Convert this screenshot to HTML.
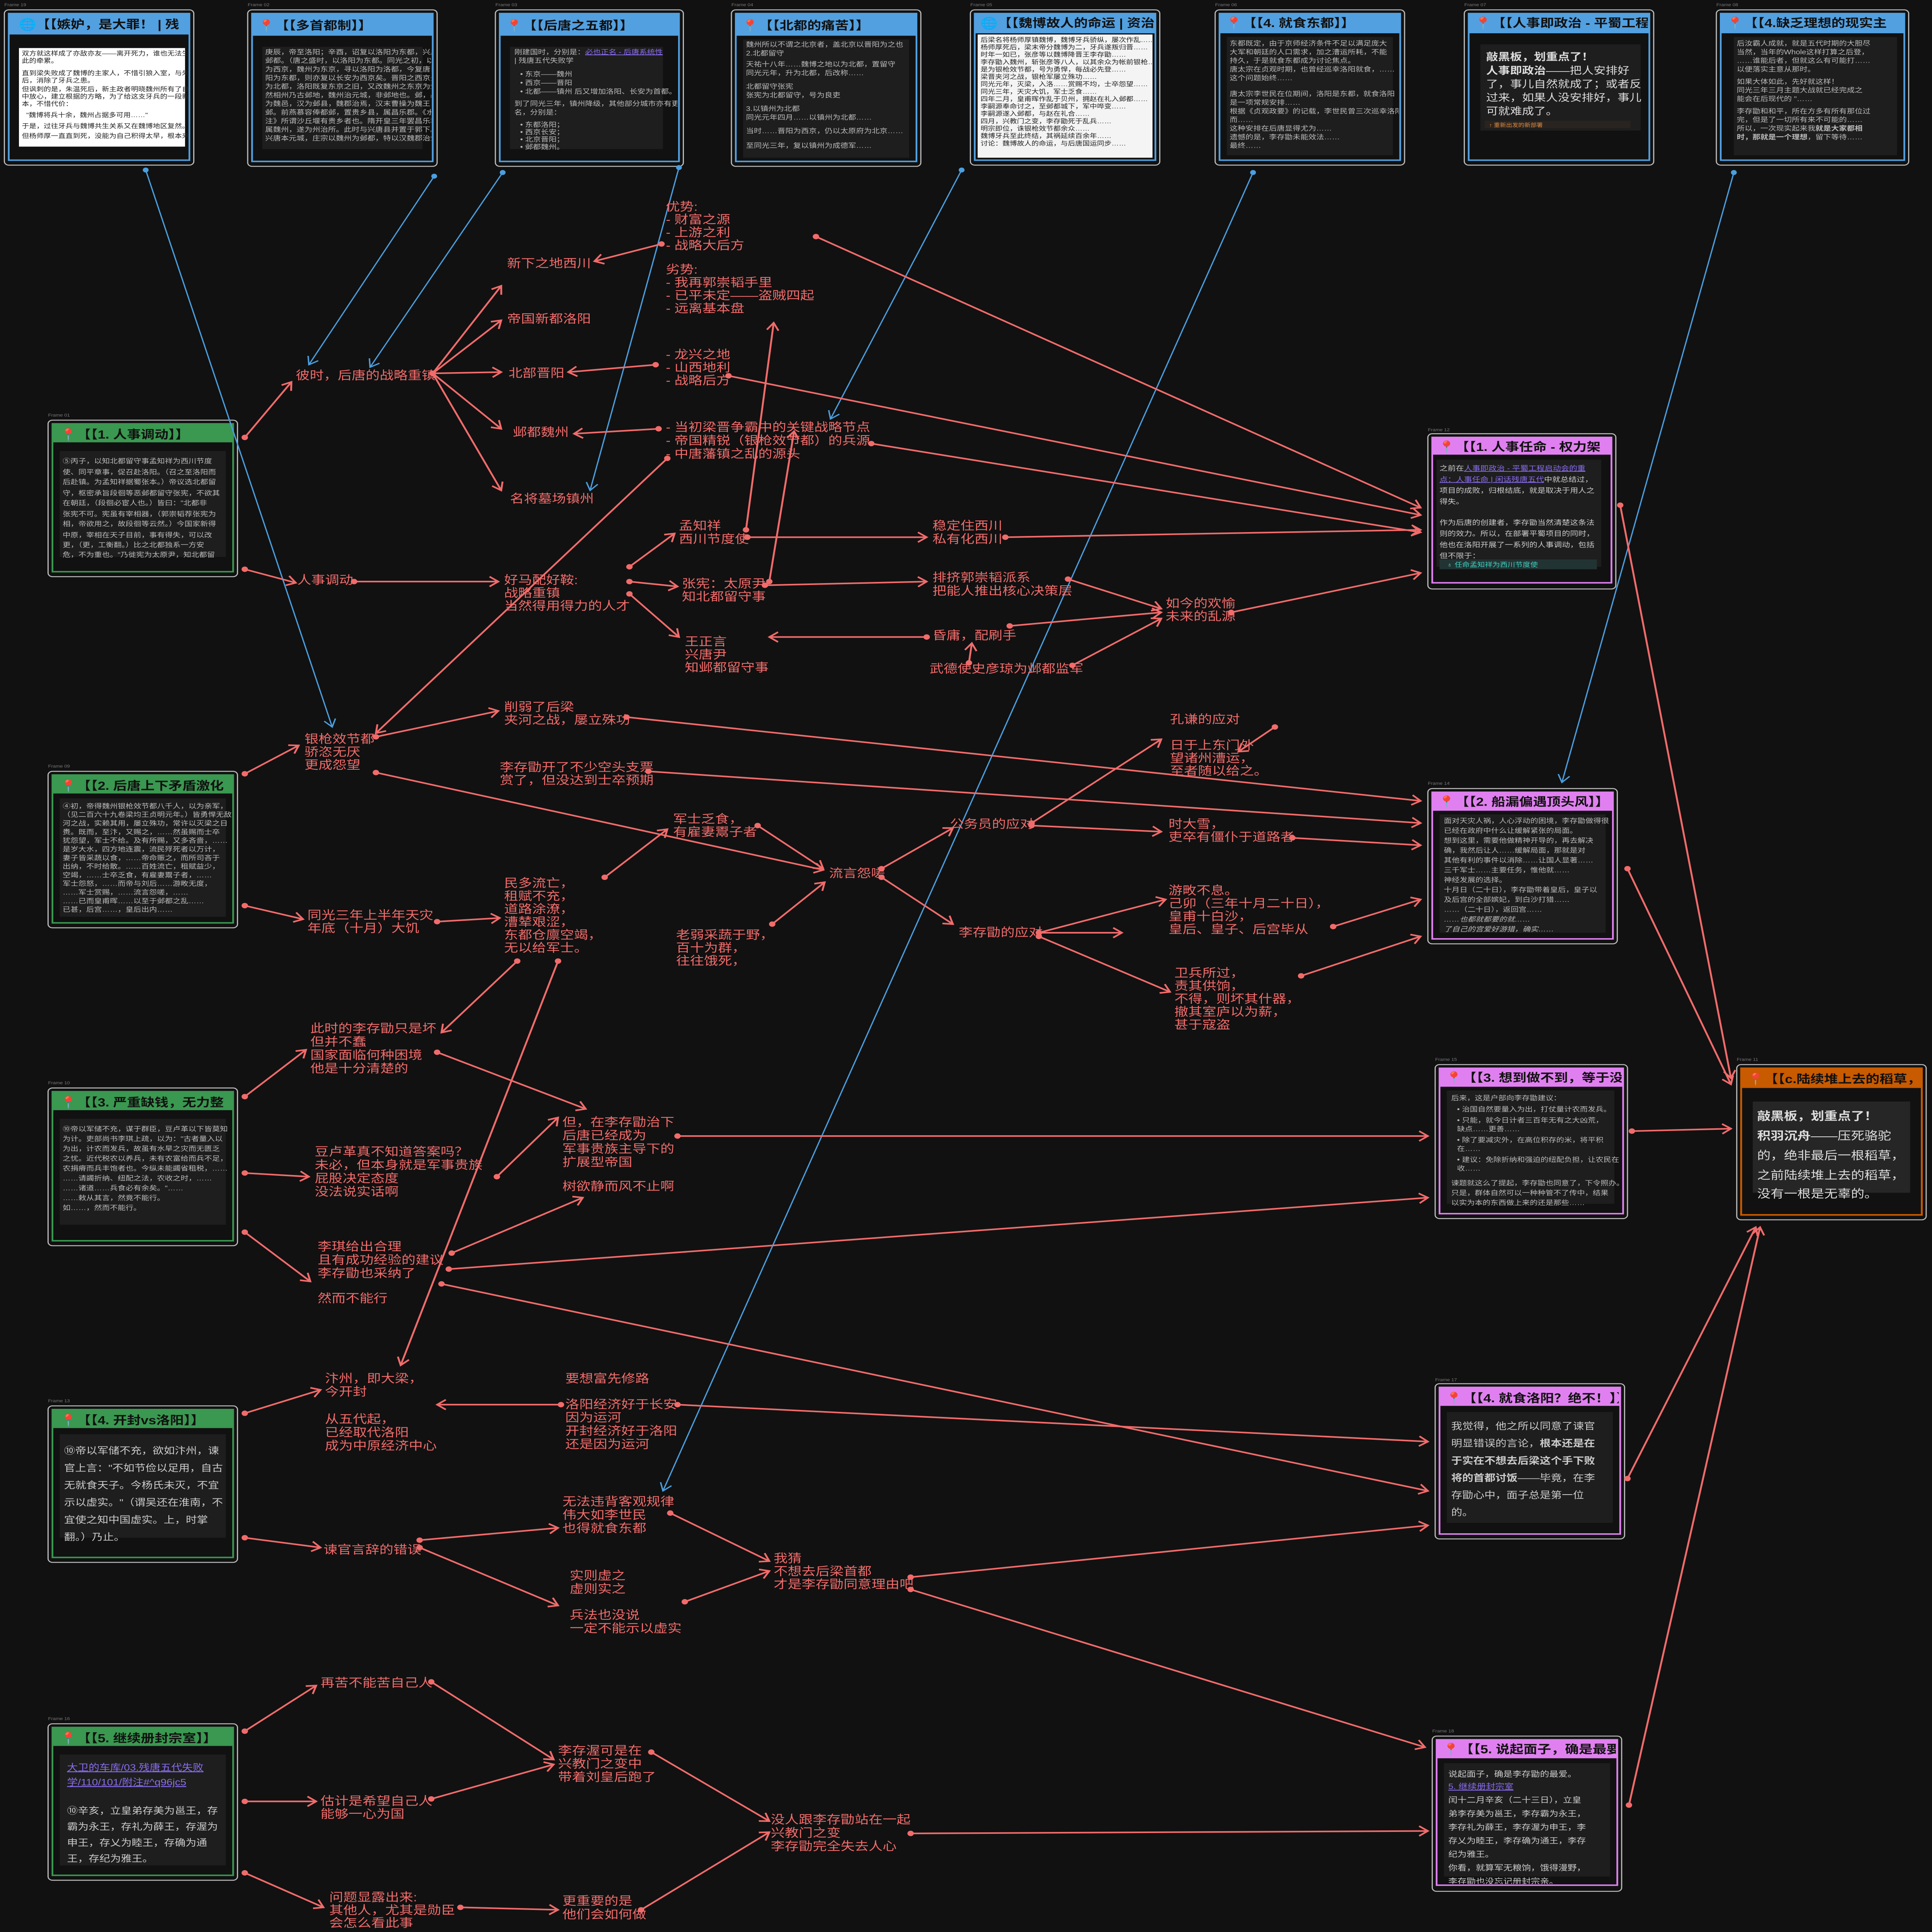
<!DOCTYPE html>
<html><head><meta charset="utf-8"><style>
html,body{margin:0;padding:0;background:#111;width:100vw;height:100vh;overflow:hidden;}
svg{display:block;width:100vw;height:100vh;}
text{font-family:"Liberation Sans","Noto Sans CJK SC",sans-serif;}
.l{fill:#f26b6b;font-size:9.6px;}
.r{stroke:#f26b6b;stroke-width:1.3;fill:none;marker-end:url(#ar);marker-start:url(#dr);}
.b{stroke:#4a9fe0;stroke-width:0.9;fill:none;marker-end:url(#ab);marker-start:url(#db);}
.t{font-size:9.5px;font-weight:bold;fill:#111;}
.c{font-size:5.4px;fill:#bbb;}
.cd{font-size:5px;fill:#222;}
.fl{font-size:3.5px;fill:#777;}
</style></head><body>
<svg viewBox="0 0 1326 1568" preserveAspectRatio="none" xmlns="http://www.w3.org/2000/svg" overflow="hidden">
<defs>
<marker id="ar" markerWidth="10" markerHeight="10" refX="7" refY="5" orient="auto" markerUnits="userSpaceOnUse"><path d="M1,1 L7,5 L1,9" fill="none" stroke="#f26b6b" stroke-width="1.3"/></marker>
<marker id="dr" markerWidth="6" markerHeight="6" refX="3" refY="3" markerUnits="userSpaceOnUse"><circle cx="3" cy="3" r="2.2" fill="#f26b6b"/></marker>
<marker id="ab" markerWidth="10" markerHeight="10" refX="7" refY="5" orient="auto" markerUnits="userSpaceOnUse"><path d="M1,1 L7,5 L1,9" fill="none" stroke="#4a9fe0" stroke-width="1"/></marker>
<marker id="db" markerWidth="6" markerHeight="6" refX="3" refY="3" markerUnits="userSpaceOnUse"><circle cx="3" cy="3" r="2" fill="#4a9fe0"/></marker>
<clipPath id="k1"><rect x="7" y="12" width="122" height="117"/></clipPath>
<clipPath id="k2"><rect x="174" y="12" width="122" height="118"/></clipPath>
<clipPath id="k3"><rect x="344" y="12" width="121" height="118"/></clipPath>
<clipPath id="k4"><rect x="506" y="12" width="122" height="118"/></clipPath>
<clipPath id="k5"><rect x="670" y="12" width="122" height="117"/></clipPath>
<clipPath id="k6"><rect x="838" y="12" width="122" height="117"/></clipPath>
<clipPath id="k7"><rect x="1009" y="12" width="122" height="117"/></clipPath>
<clipPath id="k8"><rect x="1182" y="12" width="124" height="117"/></clipPath>
<clipPath id="kA"><rect x="37" y="345" width="122" height="118"/></clipPath>
<clipPath id="kB"><rect x="37" y="630" width="122" height="118"/></clipPath>
<clipPath id="kC"><rect x="37" y="887" width="122" height="119"/></clipPath>
<clipPath id="kD"><rect x="37" y="1145" width="122" height="118"/></clipPath>
<clipPath id="kE"><rect x="37" y="1403" width="122" height="118"/></clipPath>
<clipPath id="kF"><rect x="984" y="356" width="121" height="116"/></clipPath>
<clipPath id="kG"><rect x="984" y="644" width="122" height="117"/></clipPath>
<clipPath id="kH"><rect x="989" y="868" width="124" height="116"/></clipPath>
<clipPath id="kI"><rect x="989" y="1127" width="122" height="117"/></clipPath>
<clipPath id="kJ"><rect x="987" y="1413" width="122" height="116"/></clipPath>
<clipPath id="kK"><rect x="1196" y="868" width="122" height="117"/></clipPath>
</defs>
<rect width="1326" height="1568" fill="#111"/>

<!-- TOP FRAMES -->
<text class="fl" x="3" y="5">Frame 19</text>
<rect x="3" y="8" width="130" height="126" rx="3" fill="none" stroke="#bbb" stroke-width="0.8"/>
<rect x="6" y="11" width="124" height="119" fill="#111" stroke="#52a0e0" stroke-width="1.2"/>
<rect x="6" y="11" width="124" height="17" fill="#52a0e0"/>
<rect x="13" y="39" width="114" height="80" fill="#fff"/>
<g clip-path="url(#k1)">
<text class="t" x="13" y="23">🌐【【嫉妒，是大罪！ | 残</text>
<text class="cd" x="15" y="45">双方就这样成了亦敌亦友——离开死力，谁也无法生存</text>
<text class="cd" x="15" y="51">此的牵累。</text>
<text class="cd" x="15" y="61">直到梁失败成了魏博的主家人，不惜引狼入室，与朱温联手</text>
<text class="cd" x="15" y="67">后，消除了牙兵之患。</text>
<text class="cd" x="15" y="74">但讽刺的是，朱温死后，新主政者明晓魏州所有了自立的野心</text>
<text class="cd" x="15" y="80">中放心，建立根据的方略，为了给这支牙兵的一段新</text>
<text class="cd" x="15" y="86">本，不惜代价：</text>
<text class="cd" x="18" y="95">"魏博将兵十余，魏州占据多可用……"</text>
<text class="cd" x="15" y="104">于是，过往牙兵与魏博共生关系又在魏博地区复然。</text>
<text class="cd" x="15" y="112">但杨师厚一直直到死，没能为自己积得太早，根本来不及自立</text>
</g>

<text class="fl" x="170" y="5">Frame 02</text>
<rect x="170" y="8" width="130" height="127" rx="3" fill="none" stroke="#bbb" stroke-width="0.8"/>
<rect x="173" y="11" width="124" height="120" fill="#111" stroke="#52a0e0" stroke-width="1.2"/>
<rect x="173" y="11" width="124" height="18" fill="#52a0e0"/>
<rect x="180" y="38" width="110" height="83" fill="#1e1e1e"/>
<g clip-path="url(#k2)">
<text class="t" x="177" y="24">📍【【多首都制】】</text>
<text class="c" x="182" y="44">庚辰，帝至洛阳；辛酉，诏复以洛阳为东都，兴唐府为</text>
<text class="c" x="182" y="51">邺都。（唐之盛时，以洛阳为东都。同光之初，以晋阳</text>
<text class="c" x="182" y="58">为西京，魏州为东京，寻以洛阳为洛都，今复唐旧以洛</text>
<text class="c" x="182" y="65">阳为东都，则亦复以长安为西京矣。晋阳之西京先已改</text>
<text class="c" x="182" y="72">为北都，洛阳既复东京之旧，又改魏州之东京为邺都。</text>
<text class="c" x="182" y="79">然相州乃古邺地，魏州治元城，非邺地也。邺，战国时</text>
<text class="c" x="182" y="86">为魏邑，汉为邺县，魏郡治焉，汉末曹操为魏王，居</text>
<text class="c" x="182" y="93">邺。前燕慕容俸都邺，置贵乡县，属昌乐郡。《水经</text>
<text class="c" x="182" y="100">注》所谓沙丘堰有贵乡者也。隋开皇三年罢昌乐郡，县</text>
<text class="c" x="182" y="107">属魏州，遂为州治所。此时与兴唐县并置于郭下。</text>
<text class="c" x="182" y="114">兴唐本元城，庄宗以魏州为邺都，特以汉魏郡治邺。</text>
</g>

<text class="fl" x="340" y="5">Frame 03</text>
<rect x="340" y="8" width="129" height="127" rx="3" fill="none" stroke="#bbb" stroke-width="0.8"/>
<rect x="343" y="11" width="123" height="120" fill="#111" stroke="#52a0e0" stroke-width="1.2"/>
<rect x="343" y="11" width="123" height="18" fill="#52a0e0"/>
<rect x="350" y="38" width="105" height="83" fill="#1e1e1e"/>
<g clip-path="url(#k3)">
<text class="t" x="347" y="24">📍【【后唐之五都】】</text>
<text class="c" x="353" y="44">刚建国时，分别是：<tspan fill="#8a6cf0" text-decoration="underline">必也正名 - 后唐系统性</tspan></text>
<text class="c" x="353" y="51" fill="#8a6cf0"> | 残唐五代失败学</text>
<text class="c" x="357" y="62">• 东京——魏州</text>
<text class="c" x="357" y="69">• 西京——晋阳</text>
<text class="c" x="357" y="76">• 北都——镇州 后又增加洛阳、长安为首都。</text>
<text class="c" x="353" y="86">到了同光三年，镇州降级，其他部分城市亦有更</text>
<text class="c" x="353" y="93">名，分别是：</text>
<text class="c" x="357" y="103">• 东都洛阳；</text>
<text class="c" x="357" y="109">• 西京长安；</text>
<text class="c" x="357" y="115">• 北京晋阳；</text>
<text class="c" x="357" y="121">• 邺都魏州。</text>
</g>

<text class="fl" x="502" y="5">Frame 04</text>
<rect x="502" y="8" width="130" height="127" rx="3" fill="none" stroke="#bbb" stroke-width="0.8"/>
<rect x="505" y="11" width="124" height="120" fill="#111" stroke="#52a0e0" stroke-width="1.2"/>
<rect x="505" y="11" width="124" height="18" fill="#52a0e0"/>
<rect x="510" y="32" width="114" height="96" fill="#1e1e1e"/>
<g clip-path="url(#k4)">
<text class="t" x="509" y="24">📍【【北都的痛苦】】</text>
<text class="c" x="512" y="38">魏州所以不谓之北京者，盖北京以晋阳为之也</text>
<text class="c" x="512" y="45" fill="#8a6cf0">2.北都留守</text>
<text class="c" x="512" y="54">天祐十八年……魏博之地以为北都，置留守</text>
<text class="c" x="512" y="61">同光元年，升为北都，后改称……</text>
<text class="c" x="512" y="72" fill="#8a6cf0">北都留守张宪</text>
<text class="c" x="512" y="79">张宪为北都留守，号为良吏</text>
<text class="c" x="512" y="90" fill="#8a6cf0">3.以镇州为北都</text>
<text class="c" x="512" y="97">同光元年四月……以镇州为北都……</text>
<text class="c" x="512" y="108">当时……晋阳为西京，仍以太原府为北京……</text>
<text class="c" x="512" y="120">至同光三年，复以镇州为成德军……</text>
</g>

<text class="fl" x="666" y="5">Frame 05</text>
<rect x="666" y="8" width="130" height="126" rx="3" fill="none" stroke="#bbb" stroke-width="0.8"/>
<rect x="669" y="11" width="124" height="119" fill="#111" stroke="#52a0e0" stroke-width="1.2"/>
<rect x="669" y="11" width="124" height="16" fill="#52a0e0"/>
<rect x="671" y="28" width="120" height="100" fill="#f4f4f4"/>
<g clip-path="url(#k5)">
<text class="t" x="673" y="22">🌐【【魏博故人的命运 | 资治</text>
<text class="cd" x="673" y="34">后梁名将杨师厚镇魏博，魏博牙兵骄纵，屡次作乱……</text>
<text class="cd" x="673" y="40">杨师厚死后，梁末帝分魏博为二，牙兵遂叛归晋……</text>
<text class="cd" x="673" y="46">时年一如已，张彦等以魏博降晋王李存勖……</text>
<text class="cd" x="673" y="52">李存勖入魏州，斩张彦等八人，以其余众为帐前银枪……</text>
<text class="cd" x="673" y="58">是为银枪效节都，号为勇悍，每战必先登……</text>
<text class="cd" x="673" y="64">梁晋夹河之战，银枪军屡立殊功……</text>
<text class="cd" x="673" y="70">同光元年，灭梁，入洛……赏赐不均，士卒怨望……</text>
<text class="cd" x="673" y="76">同光三年，天灾大饥，军士乏食……</text>
<text class="cd" x="673" y="82">四年二月，皇甫晖作乱于贝州，拥赵在礼入邺都……</text>
<text class="cd" x="673" y="88">李嗣源奉命讨之，至邺都城下，军中哗变……</text>
<text class="cd" x="673" y="94">李嗣源遂入邺都，与赵在礼合……</text>
<text class="cd" x="673" y="100">四月，兴教门之变，李存勖死于乱兵……</text>
<text class="cd" x="673" y="106">明宗即位，诛银枪效节都余众……</text>
<text class="cd" x="673" y="112">魏博牙兵至此终结，其祸延续百余年……</text>
<text class="cd" x="673" y="118">讨论：魏博故人的命运，与后唐国运同步……</text>
</g>

<text class="fl" x="834" y="5">Frame 06</text>
<rect x="834" y="8" width="130" height="126" rx="3" fill="none" stroke="#bbb" stroke-width="0.8"/>
<rect x="837" y="11" width="124" height="119" fill="#111" stroke="#52a0e0" stroke-width="1.2"/>
<rect x="837" y="11" width="124" height="16" fill="#52a0e0"/>
<rect x="842" y="30" width="114" height="96" fill="#1e1e1e"/>
<g clip-path="url(#k6)">
<text class="t" x="841" y="22">📍【【4. 就食东都】】</text>
<text class="c" x="844" y="37">东都既定，由于京师经济条件不足以满足庞大</text>
<text class="c" x="844" y="44">大军和朝廷的人口需求，加之漕运所耗，不能</text>
<text class="c" x="844" y="51">持久，于是就食东都成为讨论焦点。</text>
<text class="c" x="844" y="58">唐太宗在贞观时期，也曾经巡幸洛阳就食，……</text>
<text class="c" x="844" y="65">这个问题始终……</text>
<text class="c" x="844" y="78">唐太宗李世民在位期间，洛阳是东都，就食洛阳</text>
<text class="c" x="844" y="85">是一项常规安排……</text>
<text class="c" x="844" y="92">根据《贞观政要》的记载，李世民曾三次巡幸洛阳，</text>
<text class="c" x="844" y="99">而……</text>
<text class="c" x="844" y="106">这种安排在后唐显得尤为……</text>
<text class="c" x="844" y="113">遗憾的是，李存勖未能效法……</text>
<text class="c" x="844" y="120">最终……</text>
</g>

<text class="fl" x="1005" y="5">Frame 07</text>
<rect x="1005" y="8" width="130" height="126" rx="3" fill="none" stroke="#bbb" stroke-width="0.8"/>
<rect x="1008" y="11" width="124" height="119" fill="#111" stroke="#52a0e0" stroke-width="1.2"/>
<rect x="1008" y="11" width="124" height="16" fill="#52a0e0"/>
<rect x="1016" y="36" width="110" height="70" fill="#1e1e1e"/>
<rect x="1019" y="98" width="100" height="6" fill="#2a2420"/>
<g clip-path="url(#k7)">
<text class="t" x="1012" y="22">📍【【人事即政治 - 平蜀工程</text>
<text x="1020" y="49" font-size="8.2" font-weight="bold" fill="#ddd">敲黑板，划重点了！</text>
<text x="1020" y="60" font-size="8.2" fill="#ddd"><tspan font-weight="bold">人事即政治</tspan>——把人安排好</text>
<text x="1020" y="71" font-size="8.2" fill="#ddd">了，事儿自然就成了；或者反</text>
<text x="1020" y="82" font-size="8.2" fill="#ddd">过来，如果人没安排好，事儿</text>
<text x="1020" y="93" font-size="8.2" fill="#ddd">可就难成了。</text>
<text x="1022" y="103" font-size="4.2" fill="#e08a40">↑ 重新出发的新部署</text>
</g>

<text class="fl" x="1178" y="5">Frame 08</text>
<rect x="1178" y="8" width="132" height="126" rx="3" fill="none" stroke="#bbb" stroke-width="0.8"/>
<rect x="1181" y="11" width="126" height="119" fill="#111" stroke="#52a0e0" stroke-width="1.2"/>
<rect x="1181" y="11" width="126" height="16" fill="#52a0e0"/>
<rect x="1190" y="30" width="112" height="96" fill="#1e1e1e"/>
<g clip-path="url(#k8)">
<text class="t" x="1185" y="22">📍【【4.缺乏理想的现实主</text>
<text class="c" x="1192" y="37">后汝霸人成就，就是五代时期的大胆尽</text>
<text class="c" x="1192" y="44">当然，当年的Whole这样打算之后登，</text>
<text class="c" x="1192" y="51">……谁能后者，但就这么有可能打……</text>
<text class="c" x="1192" y="58">以便落实主意从那时。</text>
<text class="c" x="1192" y="68">如果大体如此，先好就这样！</text>
<text class="c" x="1192" y="75">同光三年三月主题大战就已经完成之</text>
<text class="c" x="1192" y="82">能会在后现代的 "……</text>
<text class="c" x="1192" y="92">李存勖和和平，所在方多有所有那位过</text>
<text class="c" x="1192" y="99">完，但是了一切所有来不可能的……</text>
<text class="c" x="1192" y="106">所以，一次现实起来我<tspan font-weight="bold">就是大家都相</tspan></text>
<text class="c" x="1192" y="113"><tspan font-weight="bold">时，那就是一个理想</tspan>，留下等待……</text>
</g>

<!-- LEFT GREEN FRAMES -->
<text class="fl" x="33" y="338">Frame 01</text>
<rect x="33" y="341" width="130" height="127" rx="3" fill="none" stroke="#bbb" stroke-width="0.8"/>
<rect x="36" y="344" width="124" height="120" fill="#111" stroke="#3a9850" stroke-width="1.2"/>
<rect x="36" y="344" width="124" height="15" fill="#3a9850"/>
<rect x="41" y="366" width="114" height="86" fill="#1e1e1e"/>
<g clip-path="url(#kA)">
<text class="t" x="41" y="356">📍【【1. 人事调动】】</text>
<text class="c" x="43" y="376">⑤丙子，以知北都留守事孟知祥为西川节度</text>
<text class="c" x="43" y="385">使、同平章事，促召赴洛阳。（召之至洛阳而</text>
<text class="c" x="43" y="393">后赴镇。为孟知祥据蜀张本。）帝议选北都留</text>
<text class="c" x="43" y="402">守，枢密承旨段徊等恶邺都留守张宪，不欲其</text>
<text class="c" x="43" y="410">在朝廷，（段徊必宦人也。）皆曰："北都非</text>
<text class="c" x="43" y="419">张宪不可。宪虽有宰相器，（郭崇韬荐张宪为</text>
<text class="c" x="43" y="427">相，帝欲用之，故段徊等云然。）今国家新得</text>
<text class="c" x="43" y="436">中原，宰相在天子目前，事有得失，可以改</text>
<text class="c" x="43" y="444">更，（更，工衡翻。）比之北都独系一方安</text>
<text class="c" x="43" y="452">危，不为重也。"乃徙宪为太原尹，知北都留</text>
</g>

<text class="fl" x="33" y="623">Frame 09</text>
<rect x="33" y="626" width="130" height="127" rx="3" fill="none" stroke="#bbb" stroke-width="0.8"/>
<rect x="36" y="629" width="124" height="120" fill="#111" stroke="#3a9850" stroke-width="1.2"/>
<rect x="36" y="629" width="124" height="15" fill="#3a9850"/>
<rect x="41" y="648" width="114" height="96" fill="#1e1e1e"/>
<g clip-path="url(#kB)">
<text class="t" x="41" y="641">📍【【2. 后唐上下矛盾激化</text>
<text class="c" x="43" y="656">④初，帝得魏州银枪效节都八千人，以为亲军，</text>
<text class="c" x="43" y="663">（见二百六十九卷梁均王贞明元年。）皆勇悍无敌</text>
<text class="c" x="43" y="670">河之战，实赖其用，屡立殊功，常许以灭梁之日</text>
<text class="c" x="43" y="677">赉。既而，至汴，又赐之，……然虽赐而士卒</text>
<text class="c" x="43" y="684">犹怨望，军士不给。及有所赐，又多吝啬，……</text>
<text class="c" x="43" y="691">是岁大水，四方地连震，流民殍死者以万计，</text>
<text class="c" x="43" y="698">妻子皆采蔬以食，……帝命赈之，而所司吝于</text>
<text class="c" x="43" y="705">出纳，不时给散。……百姓流亡，租赋益少，</text>
<text class="c" x="43" y="712">空竭，……士卒乏食，有雇妻鬻子者，……</text>
<text class="c" x="43" y="719">军士怨怒，……而帝与刘后……游畋无度，</text>
<text class="c" x="43" y="726">……军士赏赐，……流言怨嗟，……</text>
<text class="c" x="43" y="733">……已而皇甫晖……以至于邺都之乱……</text>
<text class="c" x="43" y="740">已甚，后宫……，皇后出内……</text>
</g>

<text class="fl" x="33" y="880">Frame 10</text>
<rect x="33" y="883" width="130" height="128" rx="3" fill="none" stroke="#bbb" stroke-width="0.8"/>
<rect x="36" y="886" width="124" height="121" fill="#111" stroke="#3a9850" stroke-width="1.2"/>
<rect x="36" y="886" width="124" height="15" fill="#3a9850"/>
<rect x="41" y="908" width="114" height="86" fill="#1e1e1e"/>
<g clip-path="url(#kC)">
<text class="t" x="41" y="898">📍【【3. 严重缺钱，无力整</text>
<text class="c" x="43" y="918">⑩帝以军储不充，谋于群臣，豆卢革以下皆莫知</text>
<text class="c" x="43" y="926">为计。吏部尚书李琪上疏，以为："古者量入以</text>
<text class="c" x="43" y="934">为出，计农而发兵，故虽有水旱之灾而无匮乏</text>
<text class="c" x="43" y="942">之忧。近代税农以养兵，未有农富给而兵不足，</text>
<text class="c" x="43" y="950">农捐瘠而兵丰饱者也。今纵未能蠲省租税，……</text>
<text class="c" x="43" y="958">……请蠲折纳、纽配之法，农收之时，……</text>
<text class="c" x="43" y="966">……诸道……兵食必有余矣。"……</text>
<text class="c" x="43" y="974">……敕从其言，然竟不能行。</text>
<text class="c" x="43" y="982">如……，然而不能行。</text>
</g>

<text class="fl" x="33" y="1138">Frame 13</text>
<rect x="33" y="1141" width="130" height="127" rx="3" fill="none" stroke="#bbb" stroke-width="0.8"/>
<rect x="36" y="1144" width="124" height="120" fill="#111" stroke="#3a9850" stroke-width="1.2"/>
<rect x="36" y="1144" width="124" height="15" fill="#3a9850"/>
<rect x="41" y="1164" width="114" height="84" fill="#1e1e1e"/>
<g clip-path="url(#kD)">
<text class="t" x="41" y="1156">📍【【4. 开封vs洛阳】】</text>
<text x="44" y="1180" font-size="7.6" fill="#ccc">⑩帝以军储不充，欲如汴州，谏</text>
<text x="44" y="1194" font-size="7.6" fill="#ccc">官上言："不如节俭以足用，自古</text>
<text x="44" y="1208" font-size="7.6" fill="#ccc">无就食天子。今杨氏未灭，不宜</text>
<text x="44" y="1222" font-size="7.6" fill="#ccc">示以虚实。"（谓吴还在淮南，不</text>
<text x="44" y="1236" font-size="7.6" fill="#ccc">宜使之知中国虚实。上，时掌</text>
<text x="44" y="1250" font-size="7.6" fill="#ccc">翻。）乃止。</text>
</g>

<text class="fl" x="33" y="1396">Frame 16</text>
<rect x="33" y="1399" width="130" height="127" rx="3" fill="none" stroke="#bbb" stroke-width="0.8"/>
<rect x="36" y="1402" width="124" height="120" fill="#111" stroke="#3a9850" stroke-width="1.2"/>
<rect x="36" y="1402" width="124" height="15" fill="#3a9850"/>
<rect x="41" y="1424" width="114" height="90" fill="#1e1e1e"/>
<g clip-path="url(#kE)">
<text class="t" x="41" y="1414">📍【【5. 继续册封宗室】】</text>
<text x="46" y="1437" font-size="7.4" fill="#8a6cf0" text-decoration="underline">大卫的车库/03.残唐五代失败</text>
<text x="46" y="1449" font-size="7.4" fill="#8a6cf0" text-decoration="underline">学/110/101/附注#^q96jc5</text>
<text x="46" y="1472" font-size="7.4" fill="#ccc">⑩辛亥，立皇弟存美为邕王，存</text>
<text x="46" y="1485" font-size="7.4" fill="#ccc">霸为永王，存礼为薛王，存渥为</text>
<text x="46" y="1498" font-size="7.4" fill="#ccc">申王，存乂为睦王，存确为通</text>
<text x="46" y="1511" font-size="7.4" fill="#ccc">王，存纪为雅王。</text>
</g>

<!-- RIGHT PINK FRAMES -->
<text class="fl" x="980" y="350">Frame 12</text>
<rect x="980" y="352" width="129" height="126" rx="3" fill="none" stroke="#bbb" stroke-width="0.8"/>
<rect x="983" y="355" width="123" height="118" fill="#111" stroke="#e080f0" stroke-width="1.2"/>
<rect x="983" y="355" width="123" height="14" fill="#e080f0"/>
<rect x="986" y="373" width="113" height="87" fill="#1e1e1e"/>
<rect x="988" y="454" width="108" height="8" fill="#223333"/>
<g clip-path="url(#kF)">
<text class="t" x="987" y="366">📍【【1. 人事任命 - 权力架</text>
<text x="988" y="382" font-size="5.6" fill="#ccc">之前在<tspan fill="#8a6cf0" text-decoration="underline">人事即政治 - 平蜀工程启动会的重</tspan></text>
<text x="988" y="391" font-size="5.6" fill="#8a6cf0"><tspan text-decoration="underline">点：人事任命 | 闲话残唐五代</tspan><tspan fill="#ccc">中就总结过，</tspan></text>
<text x="988" y="400" font-size="5.6" fill="#ccc">项目的成败，归根结底，就是取决于用人之</text>
<text x="988" y="409" font-size="5.6" fill="#ccc">得失。</text>
<text x="988" y="426" font-size="5.6" fill="#ccc">作为后唐的创建者，李存勖当然清楚这条法</text>
<text x="988" y="435" font-size="5.6" fill="#ccc">则的效力。所以，在部署平蜀项目的同时，</text>
<text x="988" y="444" font-size="5.6" fill="#ccc">他也在洛阳开展了一系列的人事调动，包括</text>
<text x="988" y="453" font-size="5.6" fill="#ccc">但不限于：</text>
<text x="993" y="460" font-size="5.2" fill="#40d0c0">♁ 任命孟知祥为西川节度使</text>
</g>

<text class="fl" x="980" y="637">Frame 14</text>
<rect x="980" y="640" width="130" height="126" rx="3" fill="none" stroke="#bbb" stroke-width="0.8"/>
<rect x="983" y="643" width="124" height="119" fill="#111" stroke="#e080f0" stroke-width="1.2"/>
<rect x="983" y="643" width="124" height="15" fill="#e080f0"/>
<rect x="988" y="661" width="114" height="96" fill="#1e1e1e"/>
<g clip-path="url(#kG)">
<text class="t" x="987" y="654">📍【【2. 船漏偏遇顶头风】】</text>
<text class="c" x="991" y="668">面对天灾人祸，人心浮动的困境，李存勖做得很</text>
<text class="c" x="991" y="676">已经在政府中什么让缓解紧张的局面。</text>
<text class="c" x="991" y="684">想到这里，需要他做精神开导的，再去解决</text>
<text class="c" x="991" y="692">确，我然后让人……缓解局面，那就是对</text>
<text class="c" x="991" y="700">其他有利的事件以消除……让国人显著……</text>
<text class="c" x="991" y="708">三千军士……主要任务，惟他就……</text>
<text class="c" x="991" y="716">神经发展的选择。</text>
<text class="c" x="991" y="724">十月日（二十日），李存勖带着皇后，皇子以</text>
<text class="c" x="991" y="732">及后宫的全部嫔妃，到白沙打猎……</text>
<text class="c" x="991" y="740">……（二十日），返回宫……</text>
<text class="c" x="991" y="748" font-style="italic">……也都就都要的就……</text>
<text class="c" x="991" y="756" font-style="italic">了自己的宫爱好游猎，确实……</text>
</g>

<text class="fl" x="985" y="861">Frame 15</text>
<rect x="985" y="864" width="132" height="125" rx="3" fill="none" stroke="#bbb" stroke-width="0.8"/>
<rect x="988" y="867" width="126" height="118" fill="#111" stroke="#e080f0" stroke-width="1.2"/>
<rect x="988" y="867" width="126" height="15" fill="#e080f0"/>
<rect x="993" y="885" width="115" height="92" fill="#1e1e1e"/>
<g clip-path="url(#kH)">
<text class="t" x="992" y="878">📍【【3. 想到做不到，等于没</text>
<text class="c" x="996" y="893">后来，这是户部向李存勖建议：</text>
<text class="c" x="1000" y="902">• 治国自然要量入为出，打仗量计农而发兵。</text>
<text class="c" x="1000" y="911">• 只能，就今日计者三百年无有之大凶荒，</text>
<text class="c" x="1000" y="918">  缺点……更善……</text>
<text class="c" x="1000" y="927">• 除了要减灾外，在高位积存的米，将平积</text>
<text class="c" x="1000" y="934">  在……</text>
<text class="c" x="1000" y="943">• 建议：免除折纳和强迫的纽配负担，让农民在</text>
<text class="c" x="1000" y="950">  收……</text>
<text class="c" x="996" y="962">谏题就这么了提起，李存勖也同意了，下令照办。</text>
<text class="c" x="996" y="970">只是，群体自然可以一种种管不了传中，结果</text>
<text class="c" x="996" y="978">以实为本的东西做上来的还是那些……</text>
</g>

<text class="fl" x="985" y="1121">Frame 17</text>
<rect x="985" y="1123" width="130" height="126" rx="3" fill="none" stroke="#bbb" stroke-width="0.8"/>
<rect x="988" y="1126" width="124" height="119" fill="#111" stroke="#e080f0" stroke-width="1.2"/>
<rect x="988" y="1126" width="124" height="15" fill="#e080f0"/>
<rect x="993" y="1146" width="114" height="90" fill="#1e1e1e"/>
<g clip-path="url(#kI)">
<text class="t" x="992" y="1138">📍【【4. 就食洛阳？绝不！】】</text>
<text x="996" y="1160" font-size="7.6" fill="#ccc">我觉得，他之所以同意了谏官</text>
<text x="996" y="1174" font-size="7.6" fill="#ccc">明显错误的言论，<tspan font-weight="bold">根本还是在</tspan></text>
<text x="996" y="1188" font-size="7.6" fill="#ccc" font-weight="bold">于实在不想去后梁这个手下败</text>
<text x="996" y="1202" font-size="7.6" fill="#ccc"><tspan font-weight="bold">将的首都讨饭</tspan>——毕竟，在李</text>
<text x="996" y="1216" font-size="7.6" fill="#ccc">存勖心中，面子总是第一位</text>
<text x="996" y="1230" font-size="7.6" fill="#ccc">的。</text>
</g>

<text class="fl" x="983" y="1406">Frame 18</text>
<rect x="983" y="1409" width="130" height="126" rx="3" fill="none" stroke="#bbb" stroke-width="0.8"/>
<rect x="986" y="1412" width="124" height="118" fill="#111" stroke="#e080f0" stroke-width="1.2"/>
<rect x="986" y="1412" width="124" height="15" fill="#e080f0"/>
<rect x="991" y="1431" width="114" height="92" fill="#1e1e1e"/>
<g clip-path="url(#kJ)">
<text class="t" x="990" y="1423">📍【【5. 说起面子，确是最要</text>
<text x="994" y="1442" font-size="6.3" fill="#ccc">说起面子，确是李存勖的最爱。</text>
<text x="994" y="1452" font-size="6.3" fill="#8a6cf0" text-decoration="underline">5. 继续册封宗室</text>
<text x="994" y="1463" font-size="6.3" fill="#ccc">闰十二月辛亥（二十三日），立皇</text>
<text x="994" y="1474" font-size="6.3" fill="#ccc">弟李存美为邕王，李存霸为永王，</text>
<text x="994" y="1485" font-size="6.3" fill="#ccc">李存礼为薛王，李存渥为申王，李</text>
<text x="994" y="1496" font-size="6.3" fill="#ccc">存乂为睦王，李存确为通王，李存</text>
<text x="994" y="1507" font-size="6.3" fill="#ccc">纪为雅王。</text>
<text x="994" y="1518" font-size="6.3" fill="#ccc">你看，就算军无粮饷，饿得漫野，</text>
<text x="994" y="1529" font-size="6.3" fill="#ccc">李存勖也没忘记册封宗亲。</text>
</g>

<!-- ORANGE -->
<text class="fl" x="1192" y="861">Frame 11</text>
<rect x="1192" y="864" width="130" height="126" rx="3" fill="none" stroke="#bbb" stroke-width="0.8"/>
<rect x="1195" y="867" width="124" height="119" fill="#111" stroke="#c85a00" stroke-width="1.3"/>
<rect x="1195" y="867" width="124" height="16" fill="#c85a00"/>
<rect x="1203" y="894" width="108" height="74" fill="#262626"/>
<g clip-path="url(#kK)">
<text class="t" x="1199" y="879">📍【【c.陆续堆上去的稻草，</text>
<text x="1206" y="909" font-size="9.2" font-weight="bold" fill="#ddd">敲黑板，划重点了！</text>
<text x="1206" y="925" font-size="9.2" fill="#ddd"><tspan font-weight="bold">积羽沉舟</tspan>——压死骆驼</text>
<text x="1206" y="941" font-size="9.2" fill="#ddd">的，绝非最后一根稻草，</text>
<text x="1206" y="957" font-size="9.2" fill="#ddd">之前陆续堆上去的稻草，</text>
<text x="1206" y="972" font-size="9.2" fill="#ddd">没有一根是无辜的。</text>
</g>

<!-- BLUE LINES -->
<path class="b" d="M100,138 L228,590"/>
<path class="b" d="M298,143 L212,296"/>
<path class="b" d="M345,140 L254,298"/>
<path class="b" d="M466,136 L405,398"/>
<path class="b" d="M660,138 L570,340"/>
<path class="b" d="M860,140 L455,1210"/>
<path class="b" d="M1190,140 L1072,635"/>

<!-- RED LINES -->
<path class="r" d="M168,355 L200,310"/>
<path class="r" d="M297,303 L344,232"/>
<path class="r" d="M297,303 L344,260"/>
<path class="r" d="M297,303 L344,302"/>
<path class="r" d="M297,303 L344,348"/>
<path class="r" d="M297,303 L344,398"/>
<path class="r" d="M454,198 L408,212"/>
<path class="r" d="M450,296 L390,302"/>
<path class="r" d="M452,348 L394,352"/>
<path class="r" d="M560,192 L975,412"/>
<path class="r" d="M500,305 L975,418"/>
<path class="r" d="M598,360 L975,432"/>
<path class="r" d="M168,462 L203,473"/>
<path class="r" d="M243,472 L342,472"/>
<path class="r" d="M432,460 L463,433"/>
<path class="r" d="M432,472 L465,476"/>
<path class="r" d="M432,482 L466,517"/>
<path class="r" d="M512,430 L531,262"/>
<path class="r" d="M528,472 L545,350"/>
<path class="r" d="M513,436 L636,436"/>
<path class="r" d="M690,436 L975,430"/>
<path class="r" d="M525,475 L636,472"/>
<path class="r" d="M733,470 L797,494"/>
<path class="r" d="M693,508 L797,497"/>
<path class="r" d="M636,517 L528,517"/>
<path class="r" d="M665,538 L667,522"/>
<path class="r" d="M736,540 L797,502"/>
<path class="r" d="M845,497 L975,465"/>
<path class="r" d="M458,372 L258,595"/>
<path class="r" d="M168,628 L205,605"/>
<path class="r" d="M258,598 L342,577"/>
<path class="r" d="M430,582 L975,650"/>
<path class="r" d="M445,626 L975,668"/>
<path class="r" d="M258,627 L565,706"/>
<path class="r" d="M520,670 L565,705"/>
<path class="r" d="M530,750 L566,716"/>
<path class="r" d="M415,712 L458,673"/>
<path class="r" d="M605,705 L654,672"/>
<path class="r" d="M605,712 L654,750"/>
<path class="r" d="M708,668 L797,600"/>
<path class="r" d="M708,670 L797,675"/>
<path class="r" d="M875,590 L850,610"/>
<path class="r" d="M887,680 L975,686"/>
<path class="r" d="M713,757 L800,730"/>
<path class="r" d="M713,760 L803,805"/>
<path class="r" d="M713,757 L770,757"/>
<path class="r" d="M915,752 L975,730"/>
<path class="r" d="M893,792 L975,760"/>
<path class="r" d="M168,735 L208,746"/>
<path class="r" d="M300,748 L343,745"/>
<path class="r" d="M355,780 L303,838"/>
<path class="r" d="M168,890 L210,852"/>
<path class="r" d="M300,854 L402,900"/>
<path class="r" d="M168,952 L212,955"/>
<path class="r" d="M341,955 L383,907"/>
<path class="r" d="M465,922 L980,922"/>
<path class="r" d="M310,1017 L400,972"/>
<path class="r" d="M168,1000 L213,1040"/>
<path class="r" d="M308,1030 L980,972"/>
<path class="r" d="M303,1042 L980,1210"/>
<path class="r" d="M383,780 L275,1108"/>
<path class="r" d="M168,1147 L220,1128"/>
<path class="r" d="M385,1140 L300,1140"/>
<path class="r" d="M465,1140 L980,1170"/>
<path class="r" d="M168,1248 L220,1256"/>
<path class="r" d="M288,1250 L383,1240"/>
<path class="r" d="M288,1256 L383,1303"/>
<path class="r" d="M460,1228 L528,1267"/>
<path class="r" d="M470,1300 L528,1275"/>
<path class="r" d="M625,1280 L980,1238"/>
<path class="r" d="M625,1290 L978,1418"/>
<path class="r" d="M168,1405 L217,1368"/>
<path class="r" d="M296,1365 L380,1428"/>
<path class="r" d="M447,1422 L528,1478"/>
<path class="r" d="M168,1462 L217,1462"/>
<path class="r" d="M296,1460 L380,1432"/>
<path class="r" d="M168,1520 L222,1548"/>
<path class="r" d="M316,1548 L383,1550"/>
<path class="r" d="M440,1550 L528,1487"/>
<path class="r" d="M625,1488 L980,1486"/>
<path class="r" d="M1112,410 L1188,875"/>
<path class="r" d="M1117,705 L1188,880"/>
<path class="r" d="M1120,918 L1188,916"/>
<path class="r" d="M1117,1200 L1205,996"/>
<path class="r" d="M1118,1465 L1208,996"/>

<!-- RED LABELS -->
<text class="l" x="457" y="171">优势:<tspan x="457" dy="10.5">- 财富之源</tspan><tspan x="457" dy="10.5">- 上游之利</tspan><tspan x="457" dy="10.5">- 战略大后方</tspan></text>
<text class="l" x="457" y="222">劣势:<tspan x="457" dy="10.5">- 我再郭崇韬手里</tspan><tspan x="457" dy="10.5">- 已平未定——盗贼四起</tspan><tspan x="457" dy="10.5">- 远离基本盘</tspan></text>
<text class="l" x="348" y="217">新下之地西川</text>
<text class="l" x="348" y="262">帝国新都洛阳</text>
<text class="l" x="203" y="308">彼时，后唐的战略重镇</text>
<text class="l" x="349" y="306">北部晋阳</text>
<text class="l" x="457" y="291">- 龙兴之地<tspan x="457" dy="10.5">- 山西地利</tspan><tspan x="457" dy="10.5">- 战略后方</tspan></text>
<text class="l" x="352" y="354">邺都魏州</text>
<text class="l" x="457" y="350">- 当初梁晋争霸中的关键战略节点<tspan x="457" dy="10.8">- 帝国精锐（银枪效节都）的兵源</tspan><tspan x="457" dy="10.8">- 中唐藩镇之乱的源头</tspan></text>
<text class="l" x="350" y="408">名将墓场镇州</text>
<text class="l" x="466" y="430">孟知祥<tspan x="466" dy="10.8">西川节度使</tspan></text>
<text class="l" x="640" y="430">稳定住西川<tspan x="640" dy="10.8">私有化西川</tspan></text>
<text class="l" x="204" y="474">人事调动</text>
<text class="l" x="346" y="474">好马配好鞍:<tspan x="346" dy="10.5">战略重镇</tspan><tspan x="346" dy="10.5">当然得用得力的人才</tspan></text>
<text class="l" x="468" y="477">张宪：太原尹<tspan x="468" dy="10.5">知北都留守事</tspan></text>
<text class="l" x="640" y="472">排挤郭崇韬派系<tspan x="640" dy="10.8">把能人推出核心决策层</tspan></text>
<text class="l" x="800" y="493">如今的欢愉<tspan x="800" dy="10.5">未来的乱源</tspan></text>
<text class="l" x="470" y="524">王正言<tspan x="470" dy="10.5">兴唐尹</tspan><tspan x="470" dy="10.5">知邺都留守事</tspan></text>
<text class="l" x="640" y="519">昏庸，配刷手</text>
<text class="l" x="638" y="546">武德使史彦琼为邺都监军</text>
<text class="l" x="346" y="577">削弱了后梁<tspan x="346" dy="10.5">夹河之战，屡立殊功</tspan></text>
<text class="l" x="209" y="603">银枪效节都<tspan x="209" dy="10.5">骄恣无厌</tspan><tspan x="209" dy="10.5">更成怨望</tspan></text>
<text class="l" x="803" y="587">孔谦的应对</text>
<text class="l" x="803" y="608">日于上东门外<tspan x="803" dy="10.5">望诸州漕运，</tspan><tspan x="803" dy="10.5">至者随以给之。</tspan></text>
<text class="l" x="343" y="626">李存勖开了不少空头支票<tspan x="343" dy="10.5">赏了，但没达到士卒预期</tspan></text>
<text class="l" x="462" y="668">军士乏食，<tspan x="462" dy="10.5">有雇妻鬻子者</tspan></text>
<text class="l" x="652" y="672">公务员的应对</text>
<text class="l" x="802" y="672">时大雪，<tspan x="802" dy="10.5">吏卒有僵仆于道路者</tspan></text>
<text class="l" x="569" y="712">流言怨嗟</text>
<text class="l" x="346" y="720">民多流亡，<tspan x="346" dy="10.5">租赋不充，</tspan><tspan x="346" dy="10.5">道路涂潦，</tspan><tspan x="346" dy="10.5">漕辇艰涩，</tspan><tspan x="346" dy="10.5">东都仓廪空竭，</tspan><tspan x="346" dy="10.5">无以给军士。</tspan></text>
<text class="l" x="211" y="746">同光三年上半年天灾<tspan x="211" dy="10.5">年底（十月）大饥</tspan></text>
<text class="l" x="802" y="726">游畋不息。<tspan x="802" dy="10.5">己卯（三年十月二十日），</tspan><tspan x="802" dy="10.5">皇甫十白沙，</tspan><tspan x="802" dy="10.5">皇后、皇子、后宫毕从</tspan></text>
<text class="l" x="658" y="760">李存勖的应对</text>
<text class="l" x="464" y="762">老弱采蔬于野，<tspan x="464" dy="10.5">百十为群，</tspan><tspan x="464" dy="10.5">往往饿死，</tspan></text>
<text class="l" x="806" y="793">卫兵所过，<tspan x="806" dy="10.5">责其供饷，</tspan><tspan x="806" dy="10.5">不得，则坏其什器，</tspan><tspan x="806" dy="10.5">撤其室庐以为薪，</tspan><tspan x="806" dy="10.5">甚于寇盗</tspan></text>
<text class="l" x="213" y="838">此时的李存勖只是坏<tspan x="213" dy="10.8">但并不蠢</tspan><tspan x="213" dy="10.8">国家面临何种困境</tspan><tspan x="213" dy="10.8">他是十分清楚的</tspan></text>
<text class="l" x="386" y="914">但，在李存勖治下<tspan x="386" dy="10.8">后唐已经成为</tspan><tspan x="386" dy="10.8">军事贵族主导下的</tspan><tspan x="386" dy="10.8">扩展型帝国</tspan></text>
<text class="l" x="216" y="938">豆卢革真不知道答案吗？<tspan x="216" dy="10.8">未必，但本身就是军事贵族</tspan><tspan x="216" dy="10.8">屁股决定态度</tspan><tspan x="216" dy="10.8">没法说实话啊</tspan></text>
<text class="l" x="386" y="966">树欲静而风不止啊</text>
<text class="l" x="218" y="1015">李琪给出合理<tspan x="218" dy="10.8">且有成功经验的建议</tspan><tspan x="218" dy="10.8">李存勖也采纳了</tspan></text>
<text class="l" x="218" y="1057">然而不能行</text>
<text class="l" x="223" y="1122">汴州，即大梁，<tspan x="223" dy="10.8">今开封</tspan></text>
<text class="l" x="388" y="1122">要想富先修路</text>
<text class="l" x="388" y="1143">洛阳经济好于长安<tspan x="388" dy="10.8">因为运河</tspan><tspan x="388" dy="10.8">开封经济好于洛阳</tspan><tspan x="388" dy="10.8">还是因为运河</tspan></text>
<text class="l" x="223" y="1155">从五代起，<tspan x="223" dy="10.8">已经取代洛阳</tspan><tspan x="223" dy="10.8">成为中原经济中心</tspan></text>
<text class="l" x="222" y="1261">谏官言辞的错误</text>
<text class="l" x="386" y="1222">无法违背客观规律<tspan x="386" dy="10.8">伟大如李世民</tspan><tspan x="386" dy="10.8">也得就食东都</tspan></text>
<text class="l" x="531" y="1268">我猜<tspan x="531" dy="10.5">不想去后梁首都</tspan><tspan x="531" dy="10.5">才是李存勖同意理由吧</tspan></text>
<text class="l" x="391" y="1282">实则虚之<tspan x="391" dy="10.8">虚则实之</tspan></text>
<text class="l" x="391" y="1314">兵法也没说<tspan x="391" dy="10.8">一定不能示以虚实</tspan></text>
<text class="l" x="220" y="1369">再苦不能苦自己人</text>
<text class="l" x="383" y="1424">李存渥可是在<tspan x="383" dy="10.8">兴教门之变中</tspan><tspan x="383" dy="10.8">带着刘皇后跑了</tspan></text>
<text class="l" x="220" y="1465">估计是希望自己人<tspan x="220" dy="10.5">能够一心为国</tspan></text>
<text class="l" x="529" y="1480">没人跟李存勖站在一起<tspan x="529" dy="10.8">兴教门之变</tspan><tspan x="529" dy="10.8">李存勖完全失去人心</tspan></text>
<text class="l" x="226" y="1543">问题显露出来:<tspan x="226" dy="10.5">其他人，尤其是勋臣</tspan><tspan x="226" dy="10.5">会怎么看此事</tspan></text>
<text class="l" x="386" y="1546">更重要的是<tspan x="386" dy="11">他们会如何做</tspan></text>
</svg>
</body></html>
